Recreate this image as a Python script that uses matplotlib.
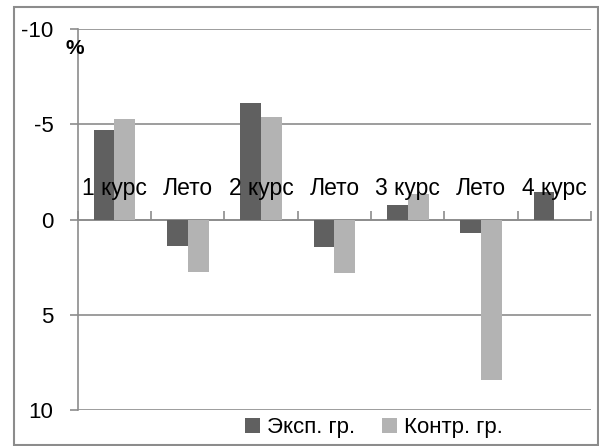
import numpy as np
import matplotlib.pyplot as plt
from matplotlib.patches import Rectangle

plt.rcParams['font.family'] = ['Liberation Sans', 'DejaVu Sans']
plt.rcParams['axes.unicode_minus'] = False

categories = ['1 курс', 'Лето', '2 курс', 'Лето', '3 курс', 'Лето', '4 курс']
eksp = [-4.7, 1.4, -6.15, 1.45, -0.75, 0.7, -1.45]
kontr = [-5.3, 2.75, -5.4, 2.8, -1.35, 8.4, 0.0]
series_names = ['Эксп. гр.', 'Контр. гр.']

fig = plt.figure(figsize=(5.99, 4.46), dpi=100)
ax = fig.add_axes([77.7 / 599, 1 - 410 / 446, (591 - 77.7) / 599, (410 - 29.3) / 446])

x = np.arange(len(categories))
w = 0.284
b1 = ax.bar(x - w / 2, eksp, w, color='#606060', zorder=3)
b2 = ax.bar(x + w / 2, kontr, w, color='#b3b3b3', zorder=3)

ax.set_xlim(-0.5, len(categories) - 0.5)
ax.set_ylim(10, -10)
ax.set_yticks([-10, -5, 0, 5, 10])
ax.yaxis.grid(True, color='#8c8c8c', lw=1.2, zorder=0)
ax.tick_params(axis='y', length=5.5, width=1.2, color='#8c8c8c', labelsize=16, pad=12)

for s in ['top', 'right']:
    ax.spines[s].set_visible(False)
ax.spines['left'].set_color('#8c8c8c')
ax.spines['left'].set_linewidth(1.2)
ax.spines['bottom'].set_position(('data', 0))
ax.spines['bottom'].set_color('#8c8c8c')
ax.spines['bottom'].set_linewidth(1.2)
ax.set_xticks(np.arange(-0.5, len(categories), 1.0))
ax.set_xticklabels([])
ax.tick_params(axis='x', direction='in', length=6.5, width=1.2, color='#8c8c8c')

for i, c in enumerate(categories):
    ax.text(i, -1.3, c, ha='center', va='baseline', fontsize=16.5, zorder=4)

fig.text(75 / 599, 1 - 49 / 446, '%', ha='center', va='center', fontsize=15, fontweight='bold')

fig.legend([b1, b2], series_names, loc='center', bbox_to_anchor=(374 / 599, 1 - 428 / 446),
           ncol=2, frameon=False, fontsize=16, handlelength=0.68, handleheight=0.68,
           handletextpad=0.3, columnspacing=1.2)

fig.patches.append(Rectangle((14 / 599, 1 - 445 / 446), (597.5 - 14) / 599, (445 - 7) / 446,
                             transform=fig.transFigure, fill=False, edgecolor='#8c8c8c', lw=1.5))

fig.savefig('out.png', dpi=100)
